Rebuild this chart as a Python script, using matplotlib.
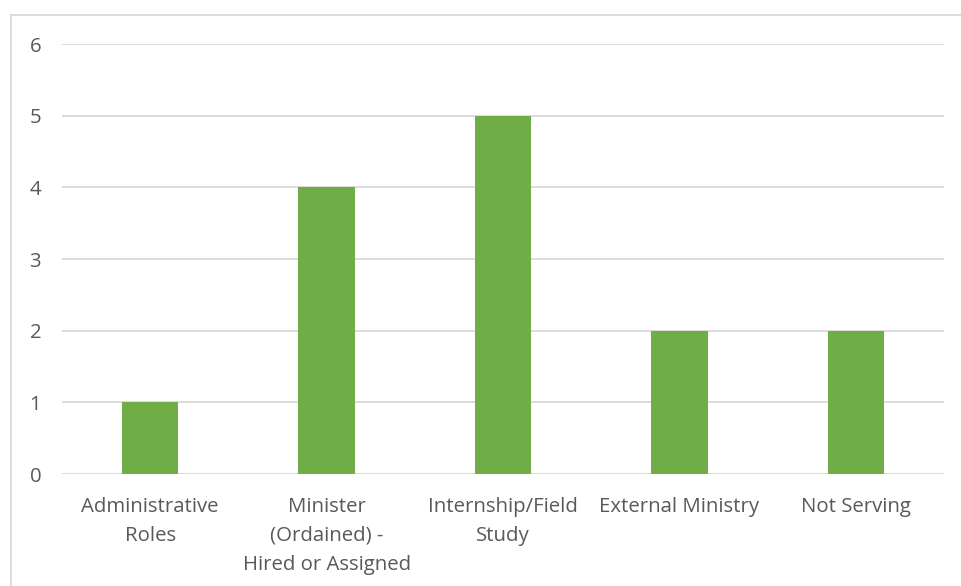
import matplotlib
matplotlib.use("Agg")
import matplotlib.pyplot as plt
from matplotlib.lines import Line2D

categories = ["Administrative\nRoles", "Minister\n(Ordained) -\nHired or Assigned",
              "Internship/Field\nStudy", "External Ministry", "Not Serving"]
values = [1, 4, 5, 2, 2]
yticks = [0, 1, 2, 3, 4, 5, 6]

plt.rcParams['font.family'] = ['Open Sans', 'DejaVu Sans']
W, H = 962, 586
fig = plt.figure(figsize=(W / 100, H / 100), dpi=100)
ax = fig.add_axes([62 / W, 1 - 474 / H, (944 - 62) / W, (474 - 44) / H])

x = list(range(len(categories)))
ax.bar(x, values, width=0.32, color="#70ad47", zorder=3)
ax.set_xlim(-0.5, len(categories) - 0.5)
ax.set_ylim(0, 6)
ax.set_yticks(yticks)
ax.set_xticks(x)
ax.set_xticklabels(categories, va="top", linespacing=1.6)
ax.grid(axis="y", color="#d9d9d9", linewidth=1.3, zorder=0)
for s in ax.spines.values():
    s.set_visible(False)
ax.tick_params(axis="both", length=0, labelsize=14.7, colors="#595959")
ax.tick_params(axis="y", pad=15)
ax.tick_params(axis="x", pad=16.5)

# chart area border
fig.add_artist(Line2D([11 / W, 11 / W], [0, 1 - 15 / H], transform=fig.transFigure,
                      color="#d9d9d9", linewidth=1.3))
fig.add_artist(Line2D([11 / W, 1], [1 - 15 / H, 1 - 15 / H], transform=fig.transFigure,
                      color="#d9d9d9", linewidth=1.3))

fig.savefig("out.png", dpi=100)
